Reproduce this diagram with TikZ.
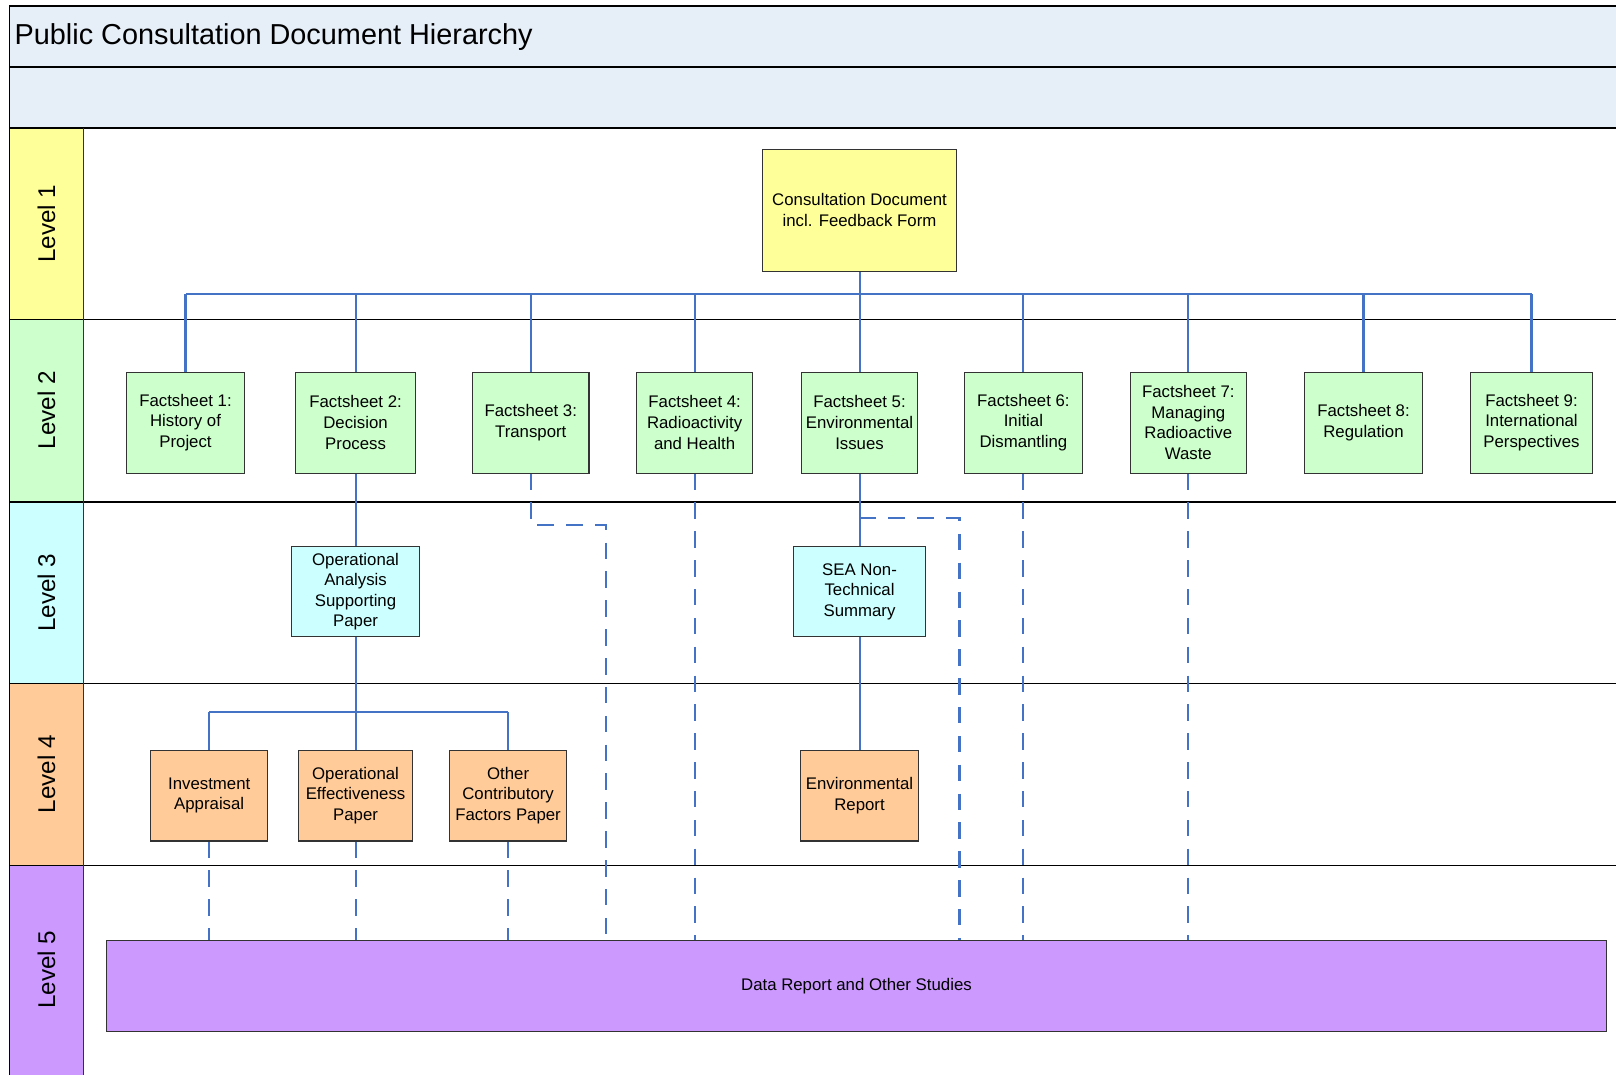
\documentclass[tikz,border=0pt]{standalone}
\usepackage{fontspec}
\setmainfont{Liberation Sans}
\definecolor{bandblue}{HTML}{E6EEF8}
\definecolor{lyellow}{HTML}{FFFF99}
\definecolor{lgreen}{HTML}{CCFFCC}
\definecolor{lcyan}{HTML}{CCFFFF}
\definecolor{lpeach}{HTML}{FFCC99}
\definecolor{lpurple}{HTML}{CC99FF}
\definecolor{conn}{HTML}{4472C4}
\definecolor{edge}{HTML}{333333}
\begin{document}
\begin{tikzpicture}[x=1pt,y=1pt,
  frame/.style={draw=black,line width=1.4pt},
  box/.style={draw=edge,line width=1pt,align=center,inner sep=1pt,
    font=\fontsize{16.3}{20}\selectfont},
  l1box/.style={box,fill=lyellow},
  l2box/.style={box,fill=lgreen,minimum height=98},
  l3box/.style={box,fill=lcyan,minimum height=88},
  l4box/.style={box,fill=lpeach,minimum height=88},
  l5box/.style={box,fill=lpurple},
  lvl/.style={rotate=90,font=\fontsize{23.5}{28}\selectfont},
  solidc/.style={draw=conn,line width=2pt},
  dashc/.style={draw=conn,line width=2pt,dash pattern=on 16pt off 12pt}
]
\useasboundingbox (0,0) rectangle (1568,-1043);
\begin{scope}
\clip (0,0) rectangle (1568,-1043);
% header bands
\fill[bandblue] (9,-6) rectangle (1580,-124);
% label column cells
\fill[lyellow] (9,-124) rectangle (81,-310);
\fill[lgreen] (9,-310) rectangle (81,-487);
\fill[lcyan] (9,-487) rectangle (81,-663);
\fill[lpeach] (9,-663) rectangle (81,-840);
\fill[lpurple] (9,-840) rectangle (81,-1060);
% frame and lane lines
\draw[frame] (1580,-6) -- (9,-6) -- (9,-1060);
\draw[frame] (9,-65) -- (1580,-65);
\draw[frame] (9,-124) -- (1580,-124);
\draw[frame] (9,-310) -- (1580,-310);
\draw[frame] (9,-487) -- (1580,-487);
\draw[frame] (9,-663) -- (1580,-663);
\draw[frame] (9,-840) -- (1580,-840);
\draw[draw=edge,line width=1pt] (81,-124) -- (81,-1060);
\end{scope}

% title and lane labels
\node[anchor=west,inner sep=0pt,font=\fontsize{28}{34}\selectfont] (title) at (14,-36) {Public Consultation Document Hierarchy};
\node[lvl] (lv1) at (45,-217) {Level 1};
\node[lvl] (lv2) at (45,-398) {Level 2};
\node[lvl] (lv3) at (45,-575) {Level 3};
\node[lvl] (lv4) at (45,-751) {Level 4};
\node[lvl] (lv5) at (45,-941) {Level 5};

% level 1
\node[l1box,minimum width=189,minimum height=118] (cd) at (834,-204) {Consultation Document\\incl. Feedback Form};

% level 2
\node[l2box,minimum width=114] (fs1) at (180,-410) {Factsheet 1:\\History of\\Project};
\node[l2box,minimum width=116] (fs2) at (345,-410) {Factsheet 2:\\Decision\\Process};
\node[l2box,minimum width=113] (fs3) at (515,-410) {Factsheet 3:\\Transport};
\node[l2box,minimum width=112] (fs4) at (674,-410) {Factsheet 4:\\Radioactivity\\and Health};
\node[l2box,minimum width=113] (fs5) at (834,-410) {Factsheet 5:\\Environmental\\Issues};
\node[l2box,minimum width=114] (fs6) at (993,-410) {Factsheet 6:\\Initial\\Dismantling};
\node[l2box,minimum width=112] (fs7) at (1153,-410) {Factsheet 7:\\Managing\\Radioactive\\Waste};
\node[l2box,minimum width=114] (fs8) at (1323,-410) {Factsheet 8:\\Regulation};
\node[l2box,minimum width=119] (fs9) at (1486,-410) {Factsheet 9:\\International\\Perspectives};

% level 3
\node[l3box,minimum width=125] (oasp) at (345,-574) {Operational\\Analysis\\Supporting\\Paper};
\node[l3box,minimum width=128] (sea) at (834,-574) {SEA Non-\\Technical\\Summary};

% level 4
\node[l4box,minimum width=114] (ia) at (203,-772) {Investment\\Appraisal};
\node[l4box,minimum width=111] (oep) at (345,-772) {Operational\\Effectiveness\\Paper};
\node[l4box,minimum width=113] (ocfp) at (493,-772) {Other\\Contributory\\Factors Paper};
\node[l4box,minimum width=114] (er) at (834,-772) {Environmental\\Report};

% level 5
\node[l5box,minimum width=1456,minimum height=88] (dr) at (831,-957) {Data Report and Other Studies};

% bus points
\coordinate (b1) at (834,-285);
\coordinate (b4) at (345,-691);
\coordinate (c3) at (588,-509);
\coordinate (c5) at (931,-503);

% solid connectors
\draw[solidc] (cd.south) -- (b1);
\draw[solidc] (fs1.north |- b1) -- (fs9.north |- b1);
\foreach \n in {fs1,fs2,fs3,fs4,fs5,fs6,fs7,fs8,fs9}{
  \draw[solidc] (\n.north) -- (\n.north |- b1);
}
\draw[solidc] (fs2.south) -- (oasp.north);
\draw[solidc] (oasp.south) -- (oep.north);
\draw[solidc] (ia.north |- b4) -- (ocfp.north |- b4);
\draw[solidc] (ia.north) -- (ia.north |- b4);
\draw[solidc] (ocfp.north) -- (ocfp.north |- b4);
\draw[solidc] (fs5.south) -- (sea.north);
\draw[solidc] (sea.south) -- (er.north);

% dashed connectors
\draw[dashc] (fs3.south) |- (c3) -- (c3 |- dr.north);
\draw[dashc] (fs4.south) -- (fs4.south |- dr.north);
\draw[dashc] (fs5.south |- c5) -- (c5) -- (c5 |- dr.north);
\draw[dashc] (fs6.south) -- (fs6.south |- dr.north);
\draw[dashc] (fs7.south) -- (fs7.south |- dr.north);
\draw[dashc] (ia.south) -- (ia.south |- dr.north);
\draw[dashc] (oep.south) -- (oep.south |- dr.north);
\draw[dashc] (ocfp.south) -- (ocfp.south |- dr.north);
\end{tikzpicture}
\end{document}
